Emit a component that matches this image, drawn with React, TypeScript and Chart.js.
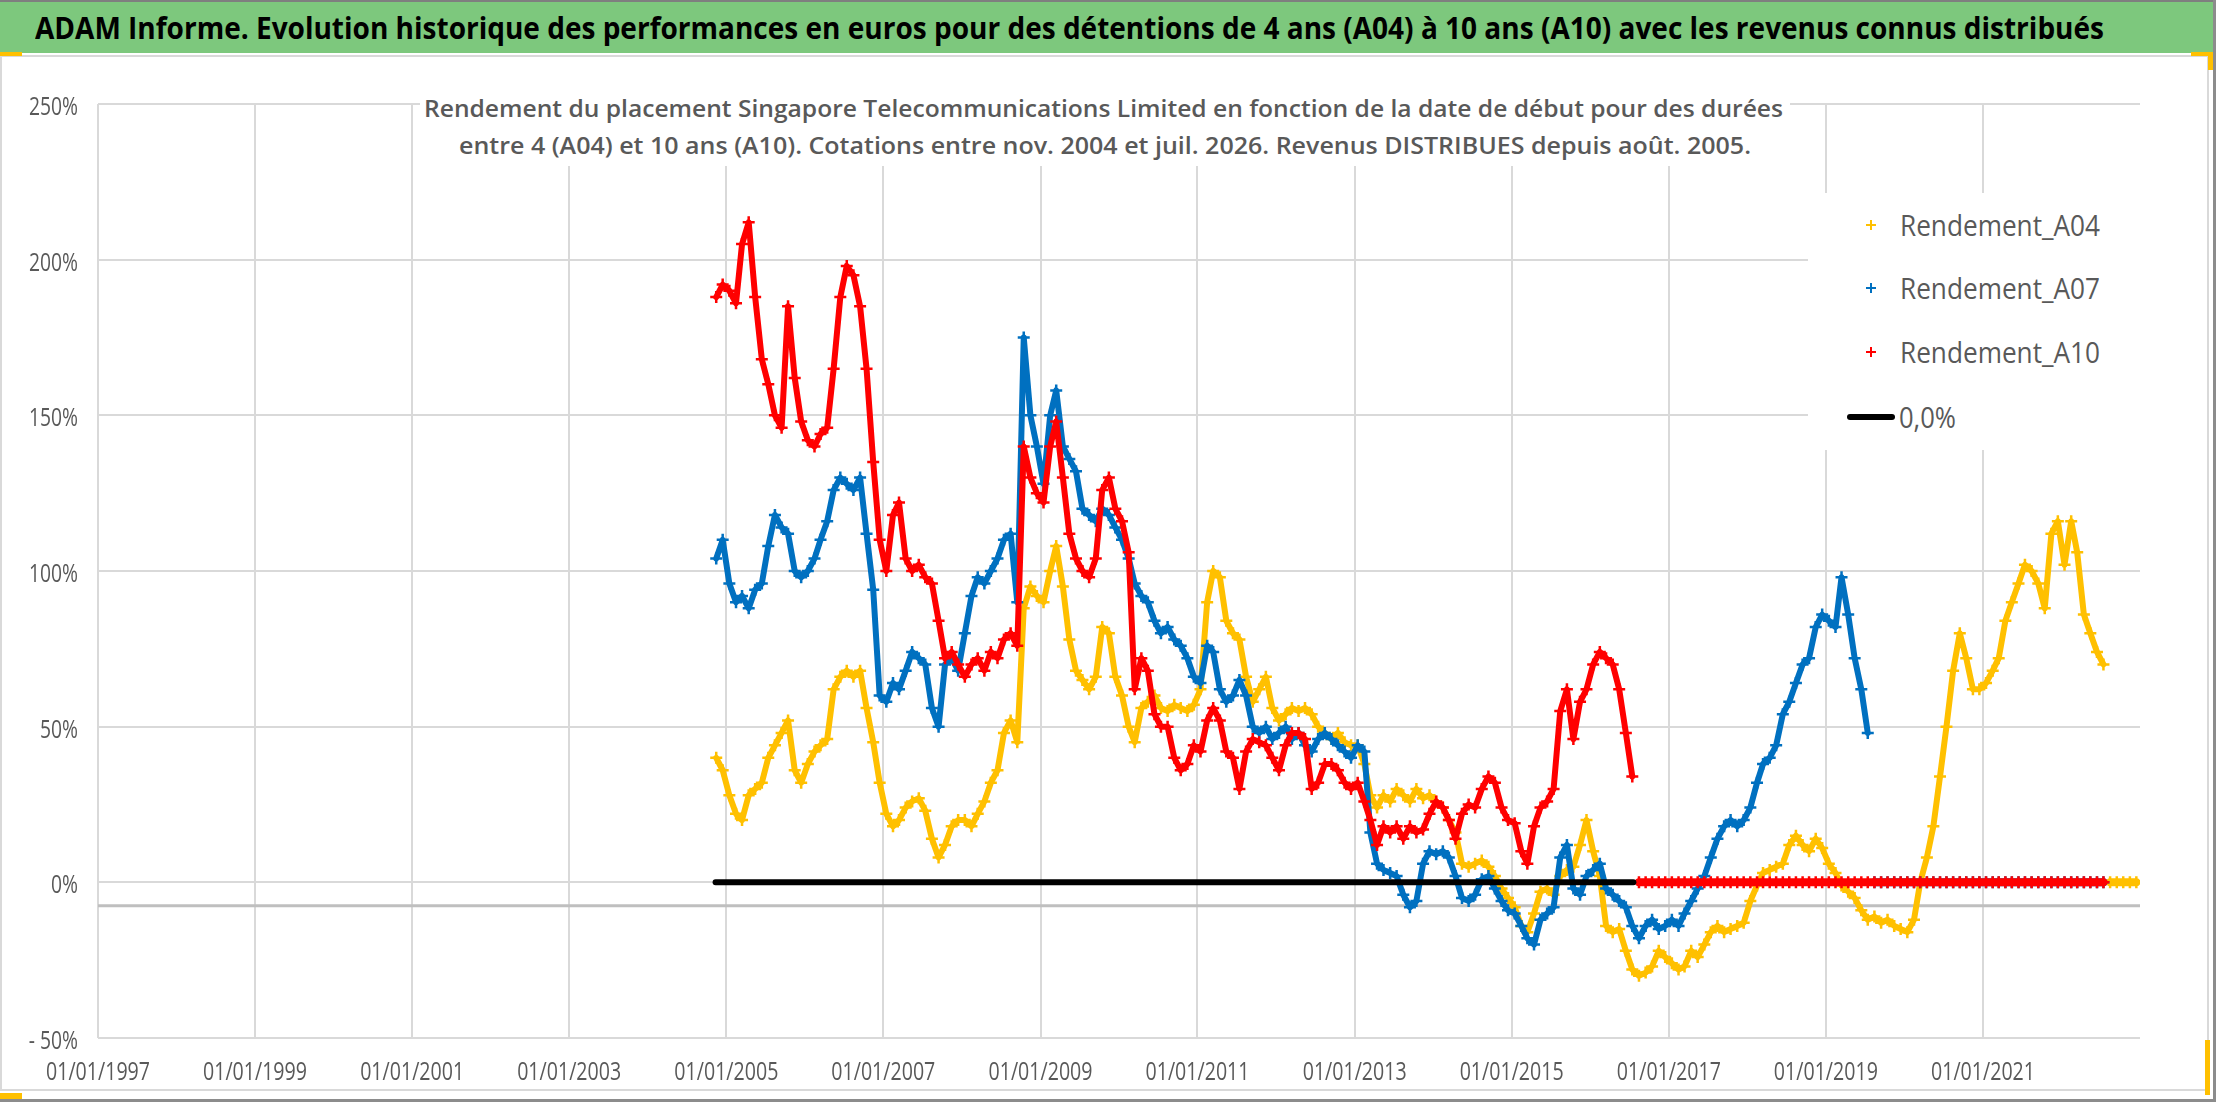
import { useEffect, useLayoutEffect, useRef } from 'react'
import { Chart, registerables, type ChartConfiguration, type Plugin } from 'chart.js'

Chart.register(...registerables)

// Monthly readings (mid-month), first value = Nov 2004
const seriesStart = { year: 2004, month: 11 }

// Rendement_A04 (4-year holding), in %
const a04Values = [
  40, 36,
  28, 22, 20, 28, 30, 32, 40, 44, 48, 52, 36, 32, // 2005
  38, 42, 44, 46, 62, 66, 68, 66, 68, 56, 45, 32, // 2006
  22, 18, 20, 24, 26, 27, 23, 14, 8, 12, 18, 20, // 2007
  20, 18, 22, 26, 32, 36, 48, 52, 45, 88, 95, 92, // 2008
  90, 100, 108, 95, 78, 68, 65, 62, 66, 82, 80, 66, // 2009
  60, 50, 45, 56, 58, 60, 56, 55, 57, 56, 55, 57, // 2010
  62, 90, 100, 98, 84, 80, 78, 66, 58, 62, 66, 56, // 2011
  52, 54, 56, 55, 56, 54, 50, 48, 46, 48, 45, 44, // 2012
  44, 38, 28, 24, 28, 26, 30, 28, 26, 30, 27, 28, // 2013
  26, 24, 20, 16, 6, 5, 6, 7, 5, 2, -2, -5, // 2014
  -8, -14, -16, -10, -3, -2, -4, 2, 4, 5, 12, 20, // 2015
  10, 2, -14, -16, -15, -22, -28, -30, -29, -27, -22, -24, // 2016
  -26, -28, -27, -22, -24, -20, -16, -14, -16, -15, -14, -13, // 2017
  -6, -1, 3, 4, 5, 6, 12, 15, 12, 10, 14, 11, // 2018
  6, 3, -1, -3, -5, -9, -12, -11, -13, -12, -14, -15, // 2019
  -16, -12, 0, 8, 18, 34, 50, 68, 80, 72, 62, 62, // 2020
  64, 68, 72, 84, 90, 96, 102, 100, 96, 88, 112, 116, // 2021
  102, 116, 106, 86, 80, 74, 70, // 2022
]
// periods not yet complete, shown at 0
const a04TailValues = [0, 0, 0, 0, 0]

// Rendement_A07 (7-year holding), in %
const a07Values = [
  104, 110,
  96, 90, 92, 88, 94, 96, 108, 118, 114, 112, 100, 98, // 2005
  100, 104, 110, 116, 126, 130, 128, 126, 130, 112, 94, 60, // 2006
  58, 64, 62, 68, 74, 72, 70, 56, 50, 70, 72, 68, // 2007
  80, 92, 98, 96, 100, 104, 110, 112, 90, 175, 150, 140, // 2008
  128, 150, 158, 140, 136, 132, 120, 118, 116, 120, 118, 114, // 2009
  110, 104, 96, 92, 90, 84, 80, 82, 78, 76, 72, 66, // 2010
  64, 76, 74, 62, 58, 60, 65, 60, 50, 48, 50, 46, // 2011
  48, 50, 46, 48, 44, 42, 46, 48, 46, 44, 42, 40, // 2012
  44, 42, 16, 6, 4, 3, 2, -4, -8, -6, 6, 10, // 2013
  9, 10, 8, 2, -5, -6, -4, 1, 2, -2, -6, -9, // 2014
  -10, -14, -18, -20, -12, -10, -8, 8, 12, -2, -4, 2, // 2015
  4, 6, -2, -4, -6, -8, -14, -18, -14, -12, -15, -14, // 2016
  -12, -14, -10, -6, -2, 2, 8, 14, 18, 20, 18, 20, // 2017
  24, 32, 38, 40, 44, 54, 58, 64, 70, 72, 82, 86, // 2018
  84, 82, 98, 86, 72, 62, 48, // 2019
]
const a07TailValues = [
  0, 0, 0, 0, 0, // 2019
  0, 0, 0, 0, 0, 0, 0, 0, 0, 0, 0, 0, // 2020
  0, 0, 0, 0, 0, 0, 0, 0, 0, 0, 0, 0, // 2021
  0, 0, 0, 0, 0, 0, 0, // 2022
]

// Rendement_A10 (10-year holding), in %
const a10Values = [
  188, 192,
  190, 186, 205, 212, 188, 168, 160, 150, 146, 185, 162, 148, // 2005
  142, 140, 144, 146, 165, 188, 198, 195, 185, 165, 135, 110, // 2006
  100, 118, 122, 104, 100, 102, 98, 96, 84, 72, 74, 70, // 2007
  66, 70, 72, 68, 74, 72, 78, 80, 76, 140, 130, 125, // 2008
  122, 140, 148, 130, 112, 104, 100, 98, 104, 126, 130, 120, // 2009
  116, 106, 62, 72, 68, 54, 50, 50, 40, 36, 38, 44, // 2010
  42, 52, 56, 52, 42, 40, 30, 42, 46, 45, 44, 40, // 2011
  36, 44, 48, 48, 46, 30, 32, 38, 38, 36, 32, 30, // 2012
  32, 26, 20, 12, 18, 16, 18, 14, 18, 16, 17, 22, // 2013
  26, 24, 20, 14, 22, 25, 24, 30, 34, 32, 24, 20, // 2014
  19, 10, 6, 18, 24, 26, 30, 55, 62, 46, 58, 62, // 2015
  70, 74, 72, 70, 62, 48, 34, // 2016
]
const a10TailValues = [
  0, 0, 0, 0, 0, // 2016
  0, 0, 0, 0, 0, 0, 0, 0, 0, 0, 0, 0, // 2017
  0, 0, 0, 0, 0, 0, 0, 0, 0, 0, 0, 0, // 2018
  0, 0, 0, 0, 0, 0, 0, 0, 0, 0, 0, 0, // 2019
  0, 0, 0, 0, 0, 0, 0, 0, 0, 0, 0, 0, // 2020
  0, 0, 0, 0, 0, 0, 0, 0, 0, 0, 0, 0, // 2021
  0, 0, 0, 0, 0, 0, 0, // 2022
]

// "0,0%" reference line
const zeroLineDates = ['2004-11-12', '2016-07-20']
const zeroLineValues = [0, 0]

const xRange = ['1997-01-01', '2023-01-01']
const xTickYears = [1997, 1999, 2001, 2003, 2005, 2007, 2009, 2011, 2013, 2015, 2017, 2019, 2021]
const yTicks = [-50, 0, 50, 100, 150, 200, 250]
const horizontalAxisAt = -7.5

const legendLabels = ['Rendement_A04', 'Rendement_A07', 'Rendement_A10', '0,0%']
const seriesColors = ['#ffc000', '#0070c0', '#ff0000', '#000000']

const mainTitle =
  'ADAM Informe. Evolution historique des performances en euros pour des détentions de 4 ans (A04) à 10 ans (A10) avec les revenus connus distribués'
const subTitleLines = [
  'Rendement du placement Singapore Telecommunications Limited en fonction de la date de début pour des durées',
  'entre 4 (A04) et 10 ans (A10). Cotations entre nov. 2004 et juil. 2026. Revenus DISTRIBUES depuis août. 2005.',
]

const FONT = '"Open Sans", "Noto Sans", sans-serif'
const TEXT_GREY = '#595959'
const GRID_GREY = '#d9d9d9'

const dateMs = (s: string) => Date.parse(`${s}T00:00:00Z`)
const monthX = (i: number) => Date.UTC(seriesStart.year, seriesStart.month - 1 + i, 15)
const formatPct = (v: number) => (v < 0 ? `- ${-v}%` : `${v}%`)
const formatDate = (year: number) => `01/01/${year}`

function drawSqueezed(
  ctx: CanvasRenderingContext2D,
  text: string,
  x: number,
  y: number,
  scaleX: number,
  align: CanvasTextAlign,
) {
  ctx.save()
  ctx.translate(x, y)
  ctx.scale(scaleX, 1)
  ctx.textAlign = align
  ctx.fillText(text, 0, 0)
  ctx.restore()
}

const excelAxisPlugin: Plugin<'scatter'> = {
  id: 'excelAxis',
  beforeDatasetsDraw(chart) {
    const { ctx, chartArea, scales } = chart
    const y = scales.y.getPixelForValue(horizontalAxisAt)
    ctx.save()
    ctx.strokeStyle = '#bfbfbf'
    ctx.lineWidth = 3
    ctx.beginPath()
    ctx.moveTo(chartArea.left, y)
    ctx.lineTo(chartArea.right, y)
    ctx.stroke()
    ctx.restore()
  },
  afterDraw(chart) {
    const { ctx, chartArea, scales } = chart
    ctx.save()
    ctx.font = `25px ${FONT}`
    ctx.fillStyle = TEXT_GREY
    ctx.textBaseline = 'middle'

    const ySquash = 49 / ctx.measureText('250%').width
    yTicks.forEach((v) => {
      drawSqueezed(ctx, formatPct(v), chartArea.left - 20, scales.y.getPixelForValue(v) + 4, ySquash, 'right')
    })

    const xSquash = 104 / ctx.measureText('01/01/1997').width
    xTickYears.forEach((year) => {
      drawSqueezed(ctx, formatDate(year), scales.x.getPixelForValue(Date.UTC(year, 0, 1)), chartArea.bottom + 35, xSquash, 'center')
    })
    ctx.restore()
  },
}

function crossSeries(label: string, values: number[], firstIndex: number, color: string, order: number, lineWidth: number) {
  return {
    label,
    data: values.map((v, i) => ({ x: monthX(firstIndex + i), y: v })),
    showLine: true,
    borderColor: color,
    backgroundColor: color,
    borderWidth: lineWidth,
    borderJoinStyle: 'round' as const,
    borderCapStyle: 'round' as const,
    pointStyle: 'cross' as const,
    pointRadius: 6,
    pointBorderWidth: 2.5,
    pointBorderColor: color,
    order,
  }
}

function FitText(props: {
  text: string
  left: number
  centerY: number
  width: number
  size: number
  weight: number
  color: string
}) {
  const { text, left, centerY, width, size, weight, color } = props
  const ref = useRef<HTMLSpanElement | null>(null)

  useLayoutEffect(() => {
    const span = ref.current
    if (!span) {
      return
    }
    const fit = () => {
      span.style.transform = 'none'
      const natural = span.getBoundingClientRect().width
      if (natural > 0) {
        span.style.transform = `scaleX(${width / natural})`
      }
    }
    fit()
    document.fonts?.ready.then(fit)
  }, [text, width])

  const lineHeight = Math.round(size * 1.4)
  return (
    <span
      ref={ref}
      style={{
        position: 'absolute',
        left,
        top: centerY - lineHeight / 2,
        height: lineHeight,
        lineHeight: `${lineHeight}px`,
        fontFamily: FONT,
        fontSize: size,
        fontWeight: weight,
        color,
        whiteSpace: 'nowrap',
        transformOrigin: 'left center',
      }}
    >
      {text}
    </span>
  )
}

function CrossMarker({ cx, cy, color }: { cx: number; cy: number; color: string }) {
  return (
    <>
      <div style={{ position: 'absolute', left: cx - 5, top: cy - 1, width: 10, height: 2, background: color }} />
      <div style={{ position: 'absolute', left: cx - 1, top: cy - 5, width: 2, height: 10, background: color }} />
    </>
  )
}

export default function App() {
  const canvasRef = useRef<HTMLCanvasElement | null>(null)
  const chartRef = useRef<Chart<'scatter'> | null>(null)

  useLayoutEffect(() => {
    document.body.style.margin = '0'
  }, [])

  useEffect(() => {
    const canvas = canvasRef.current
    if (!canvas) {
      return
    }
    chartRef.current?.destroy()

    const config: ChartConfiguration<'scatter'> = {
      type: 'scatter',
      data: {
        datasets: [
          {
            label: legendLabels[3],
            data: zeroLineDates.map((d, i) => ({ x: dateMs(d), y: zeroLineValues[i] })),
            showLine: true,
            borderColor: seriesColors[3],
            backgroundColor: seriesColors[3],
            borderWidth: 6,
            borderCapStyle: 'round',
            pointRadius: 0,
            order: 0,
          },
          crossSeries(legendLabels[2], a10Values, 0, seriesColors[2], 1, 6),
          crossSeries(legendLabels[2], a10TailValues, a10Values.length, seriesColors[2], 1, 8),
          crossSeries(legendLabels[1], a07Values, 0, seriesColors[1], 2, 6),
          crossSeries(legendLabels[1], a07TailValues, a07Values.length, seriesColors[1], 2, 8),
          crossSeries(legendLabels[0], a04Values, 0, seriesColors[0], 3, 6),
          crossSeries(legendLabels[0], a04TailValues, a04Values.length, seriesColors[0], 3, 8),
        ],
      },
      options: {
        animation: false,
        responsive: false,
        events: [],
        layout: { padding: { top: 47, right: 76, left: 0, bottom: 0 } },
        plugins: {
          legend: { display: false },
          tooltip: { enabled: false },
          title: { display: false },
        },
        scales: {
          x: {
            type: 'linear',
            min: dateMs(xRange[0]),
            max: dateMs(xRange[1]),
            afterBuildTicks: (scale) => {
              scale.ticks = xTickYears.map((year) => ({ value: Date.UTC(year, 0, 1) }))
            },
            afterFit: (scale) => {
              scale.height = 54
            },
            grid: { color: GRID_GREY, lineWidth: 2, drawTicks: false },
            border: { display: false },
            ticks: { display: false },
          },
          y: {
            min: yTicks[0],
            max: yTicks[yTicks.length - 1],
            afterFit: (scale) => {
              scale.width = 98
            },
            grid: { color: GRID_GREY, lineWidth: 2, drawTicks: false },
            border: { display: false },
            ticks: { display: false, stepSize: 50 },
          },
        },
      },
      plugins: [excelAxisPlugin],
    }

    chartRef.current = new Chart(canvas, config)

    return () => {
      chartRef.current?.destroy()
      chartRef.current = null
    }
  }, [])

  const legendRows = [225, 288, 352, 417]

  return (
    <div style={{ position: 'relative', width: 2216, height: 1102, background: '#ffffff', overflow: 'hidden' }}>
      {/* sheet header */}
      <div style={{ position: 'absolute', left: 0, top: 0, width: 2216, height: 2, background: '#7f7f7f' }} />
      <div style={{ position: 'absolute', left: 0, top: 2, width: 2213, height: 51, background: '#7dc87d' }} />
      <div style={{ position: 'absolute', left: 2213, top: 0, width: 3, height: 1102, background: '#8c8c8c' }} />
      <FitText text={mainTitle} left={35} centerY={28} width={2069} size={30} weight={700} color="#000000" />

      {/* chart frame */}
      <div
        style={{
          position: 'absolute',
          left: 0,
          top: 55,
          width: 2209,
          height: 1036,
          border: `2px solid ${GRID_GREY}`,
          boxSizing: 'border-box',
        }}
      />
      <div style={{ position: 'absolute', left: 0, top: 1099, width: 2216, height: 3, background: '#8c8c8c' }} />

      <canvas
        ref={canvasRef}
        width={2216}
        height={1035}
        style={{ position: 'absolute', left: 0, top: 57, width: 2216, height: 1035 }}
        aria-label="Rendement Singapore Telecommunications Limited A04 A07 A10"
        role="img"
      />

      {/* chart title over the plot */}
      <div style={{ position: 'absolute', left: 420, top: 88, width: 1370, height: 78, background: '#ffffff' }} />
      <FitText text={subTitleLines[0]} left={424} centerY={108} width={1359} size={24} weight={600} color={TEXT_GREY} />
      <FitText text={subTitleLines[1]} left={459} centerY={145} width={1292} size={24} weight={600} color={TEXT_GREY} />

      {/* legend */}
      <div style={{ position: 'absolute', left: 1808, top: 193, width: 332, height: 257, background: '#ffffff' }} />
      {legendLabels.slice(0, 3).map((label, i) => (
        <div key={label}>
          <CrossMarker cx={1871} cy={legendRows[i]} color={seriesColors[i]} />
          <FitText text={label} left={1900} centerY={legendRows[i]} width={200} size={30} weight={400} color={TEXT_GREY} />
        </div>
      ))}
      <div
        style={{
          position: 'absolute',
          left: 1847,
          top: legendRows[3] - 3,
          width: 48,
          height: 6,
          borderRadius: 3,
          background: seriesColors[3],
        }}
      />
      <FitText text={legendLabels[3]} left={1899} centerY={legendRows[3]} width={57} size={30} weight={400} color={TEXT_GREY} />

      {/* sheet selection handles */}
      <div style={{ position: 'absolute', left: 0, top: 52, width: 22, height: 4, background: '#ffc000' }} />
      <div style={{ position: 'absolute', left: 2191, top: 52, width: 22, height: 4, background: '#ffc000' }} />
      <div style={{ position: 'absolute', left: 2208, top: 52, width: 5, height: 18, background: '#ffc000' }} />
      <div style={{ position: 'absolute', left: 2205, top: 1040, width: 5, height: 55, background: '#ffc000' }} />
      <div style={{ position: 'absolute', left: 0, top: 1093, width: 22, height: 6, background: '#ffc000' }} />
    </div>
  )
}
